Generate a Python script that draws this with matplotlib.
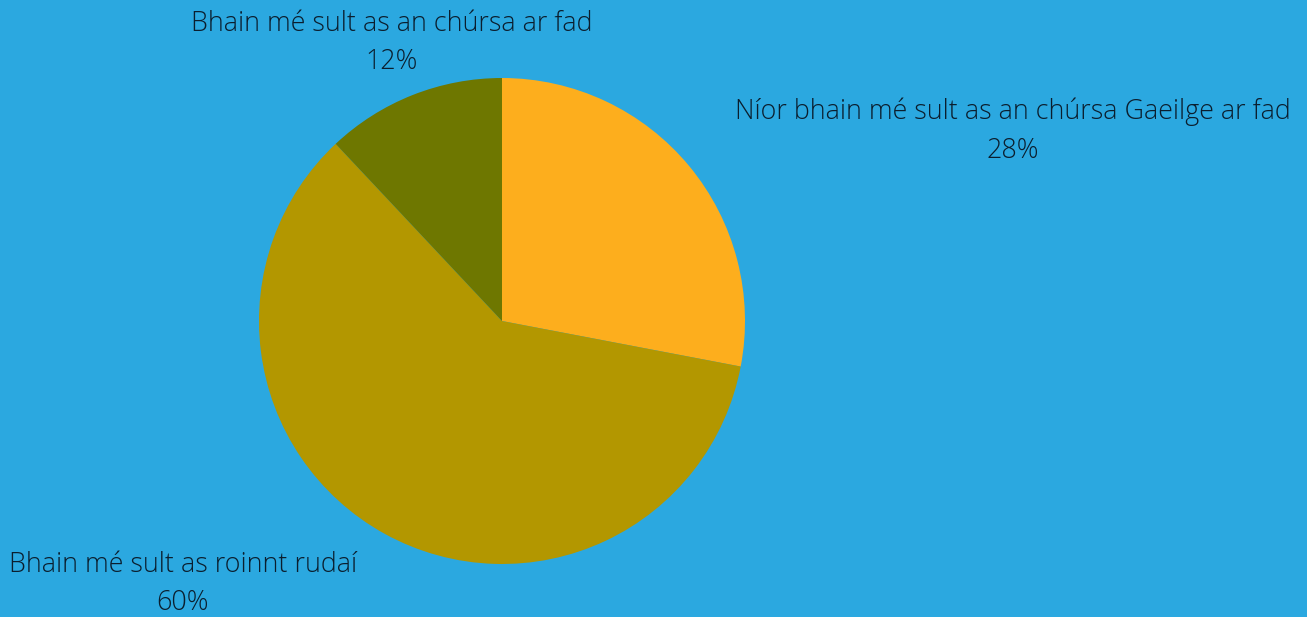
import matplotlib
matplotlib.use("Agg")
import matplotlib.pyplot as plt

labels = ["Níor bhain mé sult as an chúrsa Gaeilge ar fad",
          "Bhain mé sult as roinnt rudaí",
          "Bhain mé sult as an chúrsa ar fad"]
values = [28, 60, 12]
colors = ["#FDAE1D", "#B39700", "#6E7700"]

W, H = 1307, 617
bg = "#2BA8E0"
fig = plt.figure(figsize=(W/100, H/100), dpi=100, facecolor=bg)

cx, cy, r = 502, 321, 243
ax = fig.add_axes([(cx - r)/W, (H - cy - r)/H, 2*r/W, 2*r/H])
ax.set_facecolor(bg)
ax.pie(values, colors=colors, startangle=90, counterclock=False, radius=1,
       wedgeprops=dict(linewidth=0))
ax.set_xlim(-1, 1)
ax.set_ylim(-1, 1)
ax.set_aspect("equal")
ax.axis("off")

font = dict(family="Open Sans", fontweight="light", fontsize=19.4, color="#0B1E2E",
            ha="center", va="center", linespacing=1.5)
pos = [(1013, 131), (183, 584), (392, 43)]
for lab, v, (x, y) in zip(labels, values, pos):
    fig.text(x/W, 1 - y/H, f"{lab}\n{v}%", **font)

fig.savefig("out.png", dpi=100, facecolor=bg)
